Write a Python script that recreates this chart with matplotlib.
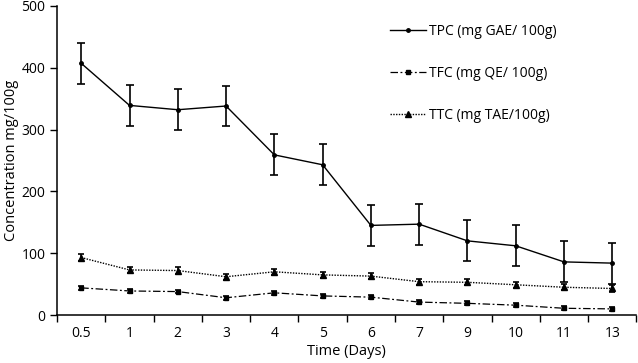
import numpy as np
import matplotlib
matplotlib.use("Agg")
import matplotlib.pyplot as plt
from matplotlib.ticker import FixedLocator, NullFormatter

plt.rcParams['font.family'] = ['Open Sans', 'DejaVu Sans']

# data
days = ['0.5', '1', '2', '3', '4', '5', '6', '7', '9', '10', '11', '13']
tpc = [407, 339, 332, 338, 259, 243, 145, 147, 120, 112, 86, 84]
tpc_err = [33, 33, 33, 33, 33, 33, 33, 33, 33, 33, 33, 33]
tfc = [44, 39, 38, 28, 36, 31, 29, 21, 19, 16, 11, 10]
tfc_err = [3, 3, 3, 3, 3, 3, 3, 3, 3, 3, 3, 3]
ttc = [93, 73, 72, 62, 70, 65, 63, 54, 53, 49, 45, 43]
ttc_err = [5, 5, 5, 5, 5, 5, 5, 5, 5, 5, 5, 5]

fig = plt.figure(figsize=(6.38, 3.63), dpi=100)
ax = fig.add_axes([0.0895, 0.132, 0.908, 0.852])

x = np.arange(len(days))
ekw = dict(ecolor='black', elinewidth=1.2, capthick=1.2)
ax.errorbar(x, tpc, yerr=tpc_err, color='black', lw=1, marker='o', ms=2.5,
            capsize=3, label='TPC (mg GAE/ 100g)', **ekw)
ax.errorbar(x, tfc, yerr=tfc_err, color='black', lw=0.9, ls=(0, (6, 2, 1.5, 2)),
            marker='s', ms=3.5, capsize=2.5, label='TFC (mg QE/ 100g)', **ekw)
ax.errorbar(x, ttc, yerr=ttc_err, color='black', lw=1, ls=(0, (1, 1)),
            marker='^', ms=5, capsize=2.5, label='TTC (mg TAE/100g)', **ekw)

ax.set_xlim(-0.5, len(days) - 0.5)
ax.set_ylim(0, 500)
ax.set_yticks([0, 100, 200, 300, 400, 500])
ax.xaxis.set_major_locator(FixedLocator(np.arange(-0.5, len(days), 1)))
ax.xaxis.set_major_formatter(NullFormatter())
ax.xaxis.set_minor_locator(FixedLocator(x))
ax.set_xticklabels(days, minor=True)
ax.tick_params(axis='x', which='major', length=5, width=1, direction='out')
ax.tick_params(axis='x', which='minor', length=0, pad=8, labelsize=10)
ax.tick_params(axis='y', length=5, width=1, direction='out', labelsize=10)

for s in ['top', 'right']:
    ax.spines[s].set_visible(False)
for s in ['left', 'bottom']:
    ax.spines[s].set_linewidth(1.1)

ax.set_xlabel('Time (Days)', fontsize=10.5, labelpad=2)
ax.set_ylabel('Concentration mg/100g', fontsize=10.5, labelpad=2)

handles, labels = ax.get_legend_handles_labels()
handles = [h[0] for h in handles]
ax.legend(handles, labels, loc='upper left', bbox_to_anchor=(0.565, 0.96),
          borderaxespad=0, frameon=False, fontsize=10, labelspacing=1.95,
          handlelength=2.6, handletextpad=0.2)

fig.savefig('out.png', dpi=100)
